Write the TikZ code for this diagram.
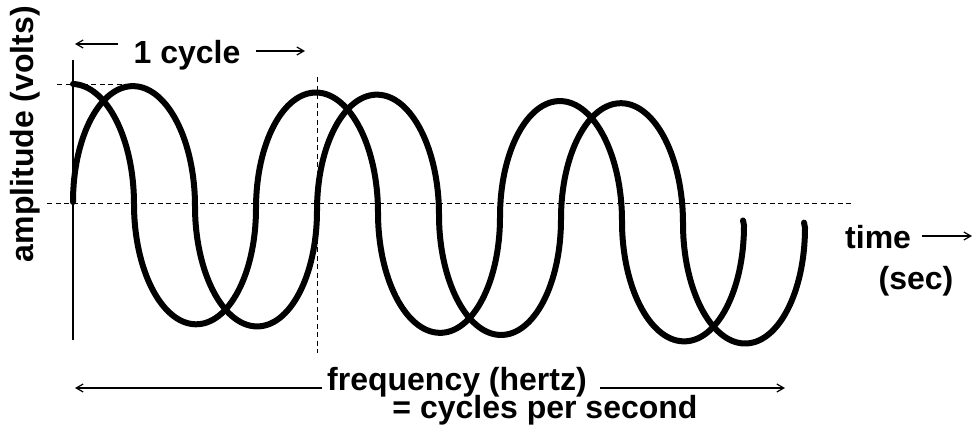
\documentclass[tikz,border=0pt]{standalone}
\usepackage{fontspec}
\setmainfont{Liberation Sans}
\usetikzlibrary{arrows.meta}
\begin{document}
\begin{tikzpicture}[x=1pt,y=-1pt,
  wave/.style={line width=6pt, line cap=round, line join=round},
  guide/.style={line width=1pt, dash pattern=on 5pt off 3.5pt},
  axisline/.style={line width=1.2pt},
  dimarrow/.style={line width=1.2pt, -{Straight Barb[length=7pt,width=8pt]}},
  lbl/.style={font=\fontsize{32}{36}\selectfont\bfseries, inner sep=0pt}]
\useasboundingbox (0,0) rectangle (977,434);

% guide lines
\coordinate (axL) at (47,203);  \coordinate (axR) at (853,203);
\coordinate (ampL) at (57,84);  \coordinate (ampR) at (122,84);
\coordinate (cycT) at (317,77); \coordinate (cycB) at (317,353);
\coordinate (yT) at (73,60);    \coordinate (yB) at (73,340);
\draw[guide] (axL) -- (axR);
\draw[guide] (ampL) -- (ampR);
\draw[guide] (cycT) -- (cycB);
\draw[axisline] (yT) -- (yB);

% waves
\begin{scope}[shift={(73,202)}, yslant=-0.035]
\draw[wave] (0,-118)
  arc[start angle=270,end angle=360,x radius=61,y radius=118]
  arc[start angle=180,end angle=0,x radius=61,y radius=118]
  arc[start angle=180,end angle=360,x radius=61,y radius=118]
  arc[start angle=180,end angle=0,x radius=61,y radius=118]
  arc[start angle=180,end angle=360,x radius=61,y radius=118]
  arc[start angle=180,end angle=0,x radius=61,y radius=118]
  -- ++(-1,-5);
\draw[wave] (0,0)
  arc[start angle=180,end angle=360,x radius=61,y radius=118]
  arc[start angle=180,end angle=0,x radius=61,y radius=118]
  arc[start angle=180,end angle=360,x radius=61,y radius=118]
  arc[start angle=180,end angle=0,x radius=61,y radius=118]
  arc[start angle=180,end angle=360,x radius=61,y radius=118]
  arc[start angle=180,end angle=0,x radius=61,y radius=118]
  -- ++(-1,-5);
\end{scope}

% labels
\node[lbl, anchor=base] (cyc) at (187,63) {1 cycle};
\coordinate (cycLs) at (118,44); \coordinate (cycLe) at (75,44);
\coordinate (cycRs) at (256,51); \coordinate (cycRe) at (305,51);
\draw[dimarrow] (cycLs) -- (cycLe);
\draw[dimarrow] (cycRs) -- (cycRe);

\node[lbl, anchor=base, rotate=90] (amp) at (33,134) {amplitude (volts)};

\node[lbl, anchor=base west] (time) at (845,248) {time};
\coordinate (tS) at (922,236); \coordinate (tE) at (972,236);
\draw[dimarrow] (tS) -- (tE);
\node[lbl, anchor=base] (sec) at (916,289) {(sec)};

\node[lbl, anchor=base] (freq) at (457,390) {frequency (hertz)};
\node[lbl, anchor=base] (cps) at (545,418) {= cycles per second};
\coordinate (fLs) at (322,388); \coordinate (fLe) at (75,388);
\coordinate (fRs) at (600,388); \coordinate (fRe) at (785,388);
\draw[dimarrow] (fLs) -- (fLe);
\draw[dimarrow] (fRs) -- (fRe);
\end{tikzpicture}
\end{document}
